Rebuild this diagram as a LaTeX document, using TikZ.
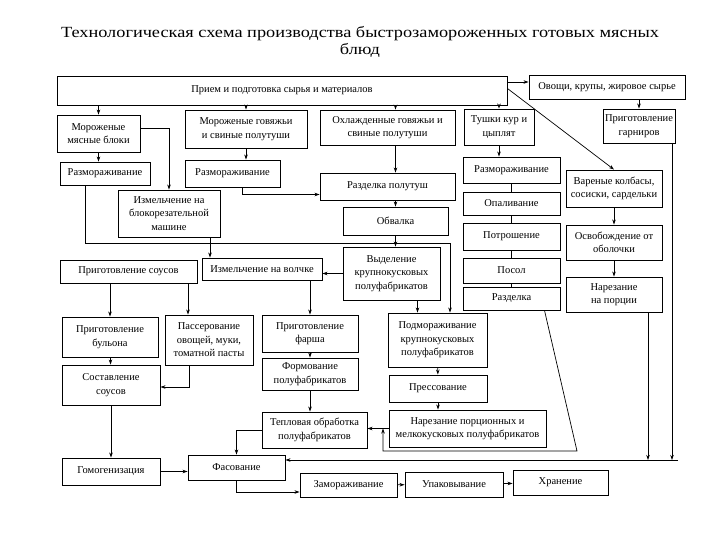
\documentclass[tikz,border=0pt]{standalone}
\usepackage{fontspec}
\setmainfont{Liberation Serif}
\usetikzlibrary{arrows.meta}
\begin{document}
\begin{tikzpicture}[
    x=1pt, y=-1pt,
    block/.style={
      rectangle,
      draw=black,
      line width=0.9pt,
      align=center,
      inner sep=1pt,
      font=\fontsize{10.5}{13.5}\selectfont
    },
    arr/.style={-{Stealth[length=5pt,width=3.5pt]}, line width=0.7pt},
    link/.style={line width=0.7pt},
]
\useasboundingbox (0,0) rectangle (720,540);

\node[font=\fontsize{15.5}{17}\selectfont, align=center, xscale=1.18, transform shape] (title) at (360,42) {Технологическая схема производства быстрозамороженных готовых мясных\\блюд};

% top row
\node[block, minimum width=450pt, minimum height=29pt] (priem) at (282,90.5) {Прием и подготовка сырья и материалов};
\node[block, minimum width=156pt, minimum height=24pt] (ovoshchi) at (607,87) {Овощи, крупы, жировое сырье};

\node[block, minimum width=83pt, minimum height=37pt] (morblok) at (98.5,133.5) {Мороженые\\мясные блоки};
\node[block, minimum width=122pt, minimum height=38pt] (morpol) at (246,129) {Мороженые говяжьи\\и свиные полутуши};
\node[block, minimum width=135pt, minimum height=35pt] (ohlpol) at (387.5,127.5) {Охлажденные говяжьи и\\свиные полутуши};
\node[block, minimum width=70pt, minimum height=36pt] (tushki) at (499,127) {Тушки кур и\\цыплят};
\node[block, minimum width=72pt, minimum height=34pt] (garnir) at (639,126) {Приготовление\\гарниров};

% thawing and cutting
\node[block, minimum width=90pt, minimum height=23pt] (razmA) at (105,173.5) {Размораживание};
\node[block, minimum width=95pt, minimum height=27pt] (razmB) at (232.5,173.5) {Размораживание};
\node[block, minimum width=135pt, minimum height=27pt] (razdpol) at (387.5,186.5) {Разделка полутуш};
\node[block, minimum width=97pt, minimum height=26pt] (razmC) at (511.5,170) {Размораживание};
\node[block, minimum width=96pt, minimum height=37pt] (varen) at (614,188.5) {Вареные колбасы,\\сосиски, сардельки};

\node[block, minimum width=102pt, minimum height=47pt] (blokorez) at (169,213.5) {Измельчение на\\блокорезательной\\машине};
\node[block, minimum width=105pt, minimum height=28pt] (obvalka) at (395.5,221) {Обвалка};
\node[block, minimum width=97pt, minimum height=23pt] (opal) at (511.5,203.5) {Опаливание};
\node[block, minimum width=97pt, minimum height=27pt] (potr) at (511.5,236.5) {Потрошение};
\node[block, minimum width=96pt, minimum height=35pt] (osvob) at (614,242.5) {Освобождение от\\оболочки};

\node[block, minimum width=137pt, minimum height=23pt] (sous) at (128.5,271.5) {Приготовление соусов};
\node[block, minimum width=120pt, minimum height=22pt] (volchok) at (262,269) {Измельчение на волчке};
\node[block, minimum width=97pt, minimum height=53pt] (vydel) at (391.5,273.5) {Выделение\\крупнокусковых\\полуфабрикатов};
\node[block, minimum width=97pt, minimum height=25pt] (posol) at (511.5,270.5) {Посол};
\node[block, minimum width=97pt, minimum height=23pt] (razdelka) at (511.5,298.5) {Разделка};
\node[block, minimum width=96pt, minimum height=35pt] (narezpor) at (614,294.5) {Нарезание\\на порции};

% semi-finished products
\node[block, minimum width=96pt, minimum height=40pt] (bulon) at (110,337) {Приготовление\\бульона};
\node[block, minimum width=88pt, minimum height=50pt] (passer) at (209,340) {Пассерование\\овощей, муки,\\томатной пасты};
\node[block, minimum width=96pt, minimum height=37pt] (farsh) at (310,333.5) {Приготовление\\фарша};
\node[block, minimum width=99pt, minimum height=54pt] (podmor) at (437.5,340) {Подмораживание\\крупнокусковых\\полуфабрикатов};

\node[block, minimum width=98pt, minimum height=40pt] (sostav) at (111,385) {Составление\\соусов};
\node[block, minimum width=96pt, minimum height=32pt] (formov) at (310,374) {Формование\\полуфабрикатов};
\node[block, minimum width=98pt, minimum height=27pt] (press) at (438,388.5) {Прессование};

\node[block, minimum width=105pt, minimum height=36pt] (teplo) at (314.5,430) {Тепловая обработка\\полуфабрикатов};
\node[block, minimum width=157pt, minimum height=37pt] (narezmelk) at (467.5,428.5) {Нарезание порционных и\\мелкокусковых полуфабрикатов};

% bottom row
\node[block, minimum width=98pt, minimum height=27pt] (gomog) at (111,471.5) {Гомогенизация};
\node[block, minimum width=97pt, minimum height=25pt] (fasov) at (236.5,467.5) {Фасование};
\node[block, minimum width=97pt, minimum height=24pt] (zamor) at (348.5,485) {Замораживание};
\node[block, minimum width=98pt, minimum height=25pt] (upak) at (454,484.5) {Упаковывание};
\node[block, minimum width=95pt, minimum height=25pt] (hran) at (560.5,482.5) {Хранение};

% helper points
\coordinate (hl) at (85,243);
\coordinate (hr) at (450,243);
\coordinate (d1) at (577,451);
\coordinate (d2) at (383,451);
\coordinate (cend) at (678,460);
\coordinate (cg) at (672,460);
\coordinate (cn) at (648,460);

% from reception
\draw[arr] (priem.south -| morblok.north) -- (morblok.north);
\draw[arr] (priem.south -| morpol.north) -- (morpol.north);
\draw[arr] (priem.south -| obvalka.north) -- (ohlpol.north -| obvalka.north);
\draw[arr] (priem.south -| tushki.north) -- (tushki.north);
\draw[arr] ([yshift=5pt]ovoshchi.west -| priem.east) -- ([yshift=5pt]ovoshchi.west);
\draw[arr] ([yshift=2pt]priem.east) -- (varen.north);
\draw[arr] (ovoshchi.south -| garnir.north) -- (garnir.north);

% meat blocks
\draw[arr] (morblok.south) -- (morblok.south |- razmA.north);
\draw[arr] ([yshift=5pt]morblok.east) -| (blokorez.north);
\draw[arr] (razmA.south -| hl) -- (hl) -- (hr) -- (podmor.north -| hr);
\draw[arr] ([xshift=41pt]blokorez.south) -- ([xshift=41pt]blokorez.south |- volchok.north);

% carcasses
\draw[arr] (morpol.south) -- (morpol.south |- razmB.north);
\draw[arr] ([xshift=10pt]razmB.south) |- ([yshift=-8pt]razdpol.west);
\draw[arr] (ohlpol.south -| obvalka.north) -- (razdpol.north -| obvalka.north);
\draw[arr] (razdpol.south -| obvalka.north) -- (obvalka.north);
\draw[arr] (obvalka.south) -- (obvalka.south |- vydel.north);
\draw[arr] (vydel.west) -- (vydel.west -| volchok.east);
\draw[arr] ([xshift=26pt]vydel.south) -- ([xshift=26pt]vydel.south |- podmor.north);

% sauces
\draw[arr] (sous.south -| bulon.north) -- (bulon.north);
\draw[arr] ([xshift=-21pt]passer.north |- sous.south) -- ([xshift=-21pt]passer.north);
\draw[arr] (bulon) -- (sostav);
\draw[arr] ([xshift=-20pt]passer.south) |- ([yshift=-2pt]sostav.east);
\draw[arr] (sostav) -- (gomog);
\draw[arr] (gomog.east) -- (gomog.east -| fasov.west);

% minced meat
\draw[arr] (volchok.south -| farsh.north) -- (farsh.north);
\draw[arr] (farsh) -- (formov);
\draw[arr] (formov.south) -- (formov.south |- teplo.north);
\draw[arr] (podmor) -- (press);
\draw[arr] (press.south) -- (press.south |- narezmelk.north);
\draw[arr] (narezmelk.west) -- (narezmelk.west -| teplo.east);
\draw[arr] (teplo.west) -| (fasov.north);

% poultry
\draw[arr] (tushki.south) -- (tushki.south |- razmC.north);
\draw[link] (razmC) -- (opal);
\draw[link] (opal) -- (potr);
\draw[link] (potr) -- (posol);
\draw[link] (posol) -- (razdelka);
\draw[arr] ([xshift=33pt]razdelka.south) -- (d1) -- (d2) -- (d2 |- narezmelk.west);

% sausages and garnish
\draw[arr] (varen) -- (osvob);
\draw[arr] (osvob) -- (narezpor);
\draw[arr] (narezpor.south -| cn) -- (cn);
\draw[arr] (garnir.south -| cg) -- (cg);
\draw[arr] (cend) -- (cend -| fasov.east);

% packing line
\draw[arr] (fasov.south) |- ([yshift=-7pt]zamor.west);
\draw[arr] (zamor) -- (upak);
\draw[arr] (upak) -- (hran);

\end{tikzpicture}
\end{document}
